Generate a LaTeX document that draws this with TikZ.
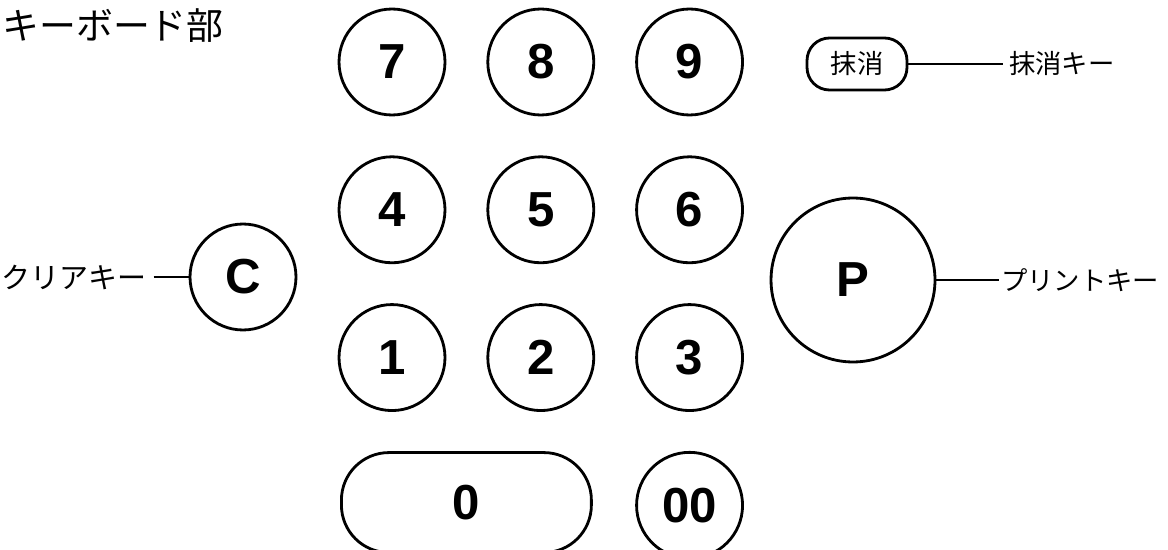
\documentclass[tikz,border=0pt]{standalone}
\usepackage{fontspec}
\setmainfont{Liberation Sans}
\newfontfamily\jpfont{Noto Sans CJK JP}
\usetikzlibrary{positioning, calc}
\newcommand{\keyfont}{\fontsize{28}{28}\selectfont\bfseries}
\tikzstyle{key} = [circle, draw=black, line width=1.6pt, minimum size=2.12cm, inner sep=0pt, font=\keyfont]
\tikzstyle{bigkey} = [key, minimum size=3.28cm]
\tikzstyle{widekey} = [rectangle, rounded corners=0.95cm, draw=black, line width=1.6pt, minimum width=5cm, minimum height=2cm, inner sep=0pt, font=\keyfont]
\tikzstyle{smallkey} = [rectangle, rounded corners=0.45cm, draw=black, line width=1.6pt, minimum width=2cm, minimum height=1.04cm, inner sep=0pt, font=\jpfont\fontsize{15}{15}\selectfont]
\tikzstyle{labeltext} = [font=\jpfont\fontsize{15}{15}\selectfont, inner sep=1pt]
\tikzstyle{leader} = [line width=1.1pt]

\begin{document}
\begin{tikzpicture}[x=0.02cm, y=-0.02cm, node distance=0.8cm]
\useasboundingbox (0,0) rectangle (1168,550);

% --- Title ---
\node (title) [anchor=west, inner sep=0pt, font=\jpfont\fontsize{21}{22}\selectfont] at (2,26) {キーボード部};

% --- Number keys ---
\node (k7) [key] at (392,62) {7};
\node (k8) [key, right=0.8cm of k7] {8};
\node (k9) [key, right=0.8cm of k8] {9};
\node (k4) [key, below=0.78cm of k7] {4};
\node (k5) [key, right=0.8cm of k4] {5};
\node (k6) [key, right=0.8cm of k5] {6};
\node (k1) [key, below=0.78cm of k4] {1};
\node (k2) [key, right=0.8cm of k1] {2};
\node (k3) [key, right=0.8cm of k2] {3};
\node (k0) [widekey] at ($(k1)!0.5!(k2) + (0,145)$) {0};
\node (k00) [key, below=0.78cm of k3] {00};

% --- Function keys ---
\node (clear) [key] at (243,277) {C};
\node (print) [bigkey] at (853,280) {P};
\node (erase) [smallkey] at (857,64) {抹消};

% --- Labels ---
\node (clear_lbl) [labeltext, left=0.7cm of clear, inner xsep=4pt, font=\jpfont\fontsize{16.5}{16.5}\selectfont] {クリアキー};
\node (print_lbl) [labeltext, right=1.25cm of print] {プリントキー};
\node (erase_lbl) [labeltext, right=1.9cm of erase, inner xsep=3pt] {抹消キー};

% --- Leader lines ---
\draw [leader] (clear_lbl) -- (clear);
\draw [leader] (print) -- (print_lbl);
\draw [leader] (erase) -- (erase_lbl);

\end{tikzpicture}
\end{document}
